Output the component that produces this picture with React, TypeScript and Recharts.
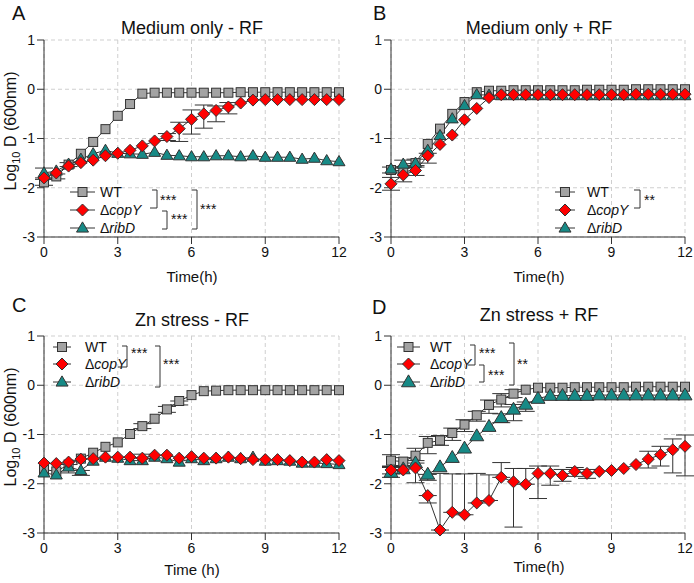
import React from "react";
import {
  LineChart,
  Line,
  XAxis,
  YAxis,
  CartesianGrid,
  ErrorBar,
  Customized,
} from "recharts";

type Err = number | [number, number];

const time = [0, 0.5, 1, 1.5, 2, 2.5, 3, 3.5, 4, 4.5, 5, 5.5, 6, 6.5, 7, 7.5, 8, 8.5, 9, 9.5, 10, 10.5, 11, 11.5, 12];
const xTicks = [0, 3, 6, 9, 12];
const yTicks = [-3, -2, -1, 0, 1];

// A: Medium only - RF
const aWT = [-1.89, -1.77, -1.53, -1.31, -1.07, -0.81, -0.54, -0.3, -0.09, -0.07, -0.07, -0.07, -0.07, -0.07, -0.07, -0.07, -0.06, -0.06, -0.06, -0.06, -0.06, -0.06, -0.06, -0.06, -0.06];
const aCop = [-1.8, -1.7, -1.56, -1.49, -1.44, -1.35, -1.3, -1.24, -1.15, -1.05, -0.96, -0.8, -0.61, -0.5, -0.43, -0.36, -0.28, -0.22, -0.21, -0.21, -0.21, -0.21, -0.21, -0.21, -0.21];
const aRib = [-1.7, -1.66, -1.52, -1.42, -1.31, -1.24, -1.3, -1.31, -1.32, -1.28, -1.34, -1.35, -1.37, -1.37, -1.35, -1.35, -1.37, -1.35, -1.38, -1.38, -1.38, -1.42, -1.4, -1.45, -1.47];
const aWTErr: Err[] = [0.06, 0.05, 0.04, 0, 0, 0, 0, 0, 0, 0, 0, 0, 0, 0, 0, 0, 0, 0, 0, 0, 0, 0, 0, 0, 0];
const aCopErr: Err[] = [0, 0, 0, 0, 0, 0, 0, 0, 0, 0, [0.08, 0.06], [0.26, 0.13], [0.3, 0.19], [0.29, 0.18], [0.23, 0.09], [0.14, 0.09], 0, 0, 0, 0, 0, 0, 0, 0, 0];
const aRibErr: Err[] = [0.1, 0, 0, 0, 0, 0, 0, 0, 0, 0, 0, 0, 0, 0, 0, 0, 0, 0, 0, 0, 0, 0, 0, 0, 0];

// B: Medium only + RF
const bWT = [-1.64, -1.66, -1.5, -1.11, -0.8, -0.5, -0.26, -0.06, -0.03, -0.03, -0.02, -0.02, -0.02, -0.02, -0.02, -0.02, -0.01, -0.01, -0.01, -0.01, 0, 0, 0, 0, 0];
const bCop = [-1.92, -1.74, -1.65, -1.35, -1.12, -0.93, -0.62, -0.39, -0.17, -0.11, -0.11, -0.11, -0.11, -0.11, -0.11, -0.11, -0.11, -0.11, -0.11, -0.11, -0.1, -0.1, -0.1, -0.1, -0.1];
const bRib = [-1.62, -1.52, -1.5, -1.24, -0.94, -0.6, -0.33, -0.11, -0.12, -0.13, -0.13, -0.13, -0.13, -0.13, -0.13, -0.13, -0.13, -0.13, -0.13, -0.13, -0.13, -0.13, -0.13, -0.13, -0.13];
const bWTErr: Err[] = [0.06, [0.22, 0], 0.08, 0, 0, 0, 0, 0, 0, 0, 0, 0, 0, 0, 0, 0, 0, 0, 0, 0, 0, 0, 0, 0, 0];
const bCopErr: Err[] = [0.13, 0, 0.1, [0.15, 0.05], 0, 0, 0, 0, 0, 0, 0, 0, 0, 0, 0, 0, 0, 0, 0, 0, 0, 0, 0, 0, 0];
const bRibErr: Err[] = [0, 0.08, 0, 0, 0, 0, 0, 0, 0, 0, 0, 0, 0, 0, 0, 0, 0, 0, 0, 0, 0, 0, 0, 0, 0];

// C: Zn stress - RF
const cWT = [-1.71, -1.75, -1.61, -1.49, -1.37, -1.25, -1.16, -0.99, -0.83, -0.68, -0.49, -0.32, -0.2, -0.12, -0.11, -0.1, -0.1, -0.1, -0.1, -0.1, -0.1, -0.1, -0.1, -0.1, -0.1];
const cCop = [-1.58, -1.59, -1.56, -1.5, -1.49, -1.46, -1.46, -1.46, -1.48, -1.42, -1.42, -1.48, -1.45, -1.48, -1.48, -1.46, -1.49, -1.51, -1.51, -1.51, -1.53, -1.56, -1.56, -1.51, -1.53];
const cRib = [-1.78, -1.82, -1.66, -1.73, -1.54, -1.46, -1.48, -1.53, -1.53, -1.46, -1.49, -1.56, -1.49, -1.53, -1.49, -1.46, -1.49, -1.46, -1.54, -1.53, -1.54, -1.58, -1.58, -1.59, -1.61];
const cWTErr: Err[] = [0, 0, [0.17, 0], 0, 0, 0, 0, 0, 0.05, 0, 0.06, [0.08, 0], 0, 0, 0, 0, 0, 0, 0, 0, 0, 0, 0, 0, 0];
const cCopErr: Err[] = [0, 0, 0, 0, 0, 0, 0, 0, [0, 0.08], 0, 0, 0, 0, 0, 0, 0, 0, 0, 0, 0, 0, 0, 0, 0, 0];
const cRibErr: Err[] = [0, 0, 0, [0.1, 0], 0, 0, 0, 0, 0, 0, 0, 0, 0, 0, 0, 0, 0, 0, 0, 0, 0, 0, 0, 0, 0];

// D: Zn stress + RF
const dWT = [-1.53, -1.55, -1.43, -1.17, -1.12, -0.97, -0.8, -0.61, -0.4, -0.29, -0.17, -0.09, -0.05, -0.05, -0.05, -0.04, -0.04, -0.04, -0.04, -0.04, -0.03, -0.03, -0.03, -0.03, -0.03];
const dCop = [-1.72, -1.72, -1.68, -2.24, -2.94, -2.58, -2.63, -2.39, -2.34, -1.87, -1.96, -2.01, -1.79, -1.79, -1.83, -1.75, -1.79, -1.75, -1.73, -1.69, -1.61, -1.5, -1.41, -1.31, -1.24];
const dRib = [-1.77, -1.7, -1.58, -1.81, -1.66, -1.47, -1.28, -1.03, -0.84, -0.66, -0.49, -0.39, -0.27, -0.21, -0.21, -0.21, -0.21, -0.2, -0.2, -0.2, -0.2, -0.2, -0.2, -0.2, -0.2];
const dWTErr: Err[] = [0.12, 0.08, [0.1, 0.15], [0.22, 0.13], 0.1, [0.15, 0.1], [0.14, 0.1], [0.12, 0.08], [0.17, 0.1], [0.15, 0.12], 0.08, 0, 0, 0, 0, 0, 0, 0, 0, 0, 0, 0, 0, 0, 0];
const dCopErr: Err[] = [0.08, 0, [0.3, 0.1], [0.15, 0], [0, 1.15], [0, 0.78], [0, 0.83], [0, 0.6], [0, 0.52], [0, 0.3], [0.92, 0.27], [0, 0.32], [0.51, 0.15], [0.24, 0.15], [0.12, 0.12], [0.1, 0.08], [0.1, 0.08], 0, 0, 0, 0, [0.18, 0.16], [0.23, 0.17], [0.47, 0.22], [0.6, 0.23]];
const dRibErr: Err[] = [0.1, 0, 0, [0.12, 0], 0, 0, 0, 0, 0, [0.1, 0.08], [0.23, 0.1], [0.14, 0.05], 0, 0, 0, 0, 0, 0, 0, 0, 0, 0, 0, 0, 0];

const FONT = "'Liberation Sans', Arial, Helvetica, sans-serif";
const INK = "#333";
const GRAY = "#a3a3a3";
const RED = "#ff0000";
const TEAL = "#178a86";

function makeRows(wt: number[], wtE: Err[], cop: number[], copE: Err[], rib: number[], ribE: Err[]) {
  return time.map((t, i) => ({
    t,
    wt: wt[i],
    wtE: wtE[i] || null,
    cop: cop[i],
    copE: copE[i] || null,
    rib: rib[i],
    ribE: ribE[i] || null,
  }));
}

function Square({ cx, cy, s = 9 }: { cx: number; cy: number; s?: number }) {
  return <rect x={cx - s / 2} y={cy - s / 2} width={s} height={s} fill={GRAY} stroke={INK} strokeWidth={1} />;
}
function Diamond({ cx, cy, r = 6 }: { cx: number; cy: number; r?: number }) {
  return (
    <polygon
      points={`${cx},${cy - r} ${cx + r},${cy} ${cx},${cy + r} ${cx - r},${cy}`}
      fill={RED}
      stroke={INK}
      strokeWidth={1}
    />
  );
}
function Triangle({ cx, cy, w = 12 }: { cx: number; cy: number; w?: number }) {
  const h = w * 0.85;
  return (
    <polygon
      points={`${cx},${cy - h * 0.6} ${cx + w / 2},${cy + h * 0.4} ${cx - w / 2},${cy + h * 0.4}`}
      fill={TEAL}
      stroke={INK}
      strokeWidth={1}
    />
  );
}

type Bracket = { x: number; y1: number; y2: number; xa: number; xb: number; label: string; lx: number; ly: number };

type PanelProps = {
  left: number;
  top: number;
  height: number;
  plotTop: number;
  plotRight: number;
  letter: string;
  letterX: number;
  letterY: number;
  title: string;
  titleY: number;
  xLabel: string;
  xLabelY: number;
  showYLabel: boolean;
  rows: ReturnType<typeof makeRows>;
  legend: { rows: number[]; l1: number; l2: number; tx: number; tri: number };
  brackets: Bracket[];
};

function Overlay({ p }: { p: PanelProps }) {
  const mx = (p.legend.l1 + p.legend.l2) / 2;
  const names = [
    <tspan key="wt">WT</tspan>,
    <>
      <tspan>Δ</tspan>
      <tspan fontStyle="italic">copY</tspan>
    </>,
    <>
      <tspan>Δ</tspan>
      <tspan fontStyle="italic">ribD</tspan>
    </>,
  ];
  const ly = p.plotTop + 91;
  return (
    <g fontFamily={FONT} fill="#111">
      <text x={p.letterX} y={p.letterY} fontSize={20}>
        {p.letter}
      </text>
      <text x={192} y={p.titleY} fontSize={18} textAnchor="middle">
        {p.title}
      </text>
      <text x={192} y={p.xLabelY} fontSize={15} textAnchor="middle">
        {p.xLabel}
      </text>
      {p.showYLabel && (
        <text
          x={16}
          y={ly}
          fontSize={16}
          textAnchor="middle"
          transform={`rotate(-90, 16, ${ly})`}
        >
          Log
          <tspan fontSize={11} dy={4}>
            10
          </tspan>
          <tspan dy={-4}> D (600nm)</tspan>
        </text>
      )}
      {p.legend.rows.map((y, i) => (
        <g key={i}>
          <line x1={p.legend.l1} x2={p.legend.l2} y1={y} y2={y} stroke={INK} strokeWidth={1} />
          {i === 0 && <Square cx={mx} cy={y} />}
          {i === 1 && <Diamond cx={mx} cy={y} />}
          {i === 2 && <Triangle cx={mx} cy={y} w={p.legend.tri} />}
          <text x={p.legend.tx} y={y} fontSize={14} dominantBaseline="central">
            {names[i]}
          </text>
        </g>
      ))}
      {p.brackets.map((b, i) => (
        <g key={i}>
          <path d={`M${b.xa},${b.y1} H${b.x} V${b.y2} H${b.xb}`} fill="none" stroke={INK} strokeWidth={1} />
          <text x={b.lx} y={b.ly} fontSize={14} dominantBaseline="central">
            {b.label}
          </text>
        </g>
      ))}
    </g>
  );
}

function Panel(p: PanelProps) {
  const xAxisHeight = p.height - (p.plotTop + 197);
  return (
    <div style={{ position: "absolute", left: p.left, top: p.top }}>
      <LineChart
        width={347}
        height={p.height}
        data={p.rows}
        margin={{ top: p.plotTop, right: 347 - p.plotRight, left: 0, bottom: 0 }}
      >
        <CartesianGrid stroke="#cfcfcf" strokeDasharray="4 3" />
        <XAxis
          dataKey="t"
          type="number"
          domain={[0, 12]}
          ticks={xTicks}
          height={xAxisHeight}
          stroke={INK}
          tickSize={7}
          tickMargin={3}
          tick={{ fill: "#111", fontSize: 14, fontFamily: FONT }}
        />
        <YAxis
          type="number"
          domain={[-3, 1]}
          ticks={yTicks}
          width={44}
          stroke={INK}
          tickSize={7}
          tickMargin={2}
          tick={{ fill: "#111", fontSize: 14, fontFamily: FONT }}
        />
        <Line
          dataKey="wt"
          stroke={INK}
          strokeWidth={1}
          isAnimationActive={false}
          activeDot={false}
          dot={(d: any) => <Square key={`s${d.index}`} cx={d.cx} cy={d.cy} />}
        >
          <ErrorBar dataKey="wtE" width={9} stroke={INK} strokeWidth={1} direction="y" />
        </Line>
        <Line
          dataKey="rib"
          stroke={INK}
          strokeWidth={1}
          isAnimationActive={false}
          activeDot={false}
          dot={(d: any) => <Triangle key={`t${d.index}`} cx={d.cx} cy={d.cy} w={p.legend.tri} />}
        >
          <ErrorBar dataKey="ribE" width={9} stroke={INK} strokeWidth={1} direction="y" />
        </Line>
        <Line
          dataKey="cop"
          stroke={INK}
          strokeWidth={1}
          isAnimationActive={false}
          activeDot={false}
          dot={(d: any) => <Diamond key={`d${d.index}`} cx={d.cx} cy={d.cy} />}
        >
          <ErrorBar dataKey="copE" width={9} stroke={INK} strokeWidth={1} direction="y" />
        </Line>
        <Customized component={<Overlay p={p} />} />
      </LineChart>
    </div>
  );
}

export default function App() {
  const common = { height: 290 };
  return (
    <div style={{ position: "absolute", left: 0, top: 0, width: 694, height: 583, background: "#fff" }}>
      <Panel
        {...common}
        left={0}
        top={0}
        plotTop={40}
        plotRight={339}
        letter="A"
        letterX={12}
        letterY={20}
        title="Medium only - RF"
        titleY={34}
        xLabel="Time(h)"
        xLabelY={282}
        showYLabel
        rows={makeRows(aWT, aWTErr, aCop, aCopErr, aRib, aRibErr)}
        legend={{ rows: [192, 210, 228], l1: 70, l2: 95, tx: 100, tri: 12 }}
        brackets={[
          { x: 157, y1: 190, y2: 208, xa: 152, xb: 150, label: "***", lx: 160, ly: 200 },
          { x: 167, y1: 211, y2: 229, xa: 162, xb: 162, label: "***", lx: 171, ly: 219 },
          { x: 197, y1: 190, y2: 229, xa: 192, xb: 192, label: "***", lx: 200, ly: 209 },
        ]}
      />
      <Panel
        {...common}
        left={347}
        top={0}
        plotTop={40}
        plotRight={338}
        letter="B"
        letterX={26}
        letterY={20}
        title="Medium only + RF"
        titleY={34}
        xLabel="Time(h)"
        xLabelY={282}
        showYLabel={false}
        rows={makeRows(bWT, bWTErr, bCop, bCopErr, bRib, bRibErr)}
        legend={{ rows: [192, 210, 228], l1: 208, l2: 228, tx: 240, tri: 12 }}
        brackets={[{ x: 293, y1: 190, y2: 208, xa: 287, xb: 287, label: "**", lx: 297, ly: 200 }]}
      />
      <Panel
        height={293}
        left={0}
        top={290}
        plotTop={46}
        plotRight={339}
        letter="C"
        letterX={12}
        letterY={22}
        title="Zn stress - RF"
        titleY={36}
        xLabel="Time (h)"
        xLabelY={285}
        showYLabel
        rows={makeRows(cWT, cWTErr, cCop, cCopErr, cRib, cRibErr)}
        legend={{ rows: [57, 74, 92], l1: 53, l2: 71, tx: 85, tri: 12 }}
        brackets={[
          { x: 127, y1: 56, y2: 77, xa: 122, xb: 118, label: "***", lx: 131, ly: 63 },
          { x: 160, y1: 56, y2: 97, xa: 155, xb: 155, label: "***", lx: 163, ly: 74 },
        ]}
      />
      <Panel
        height={293}
        left={347}
        top={290}
        plotTop={46}
        plotRight={338}
        letter="D"
        letterX={25}
        letterY={24}
        title="Zn stress + RF"
        titleY={31}
        xLabel="Time(h)"
        xLabelY={282}
        showYLabel={false}
        rows={makeRows(dWT, dWTErr, dCop, dCopErr, dRib, dRibErr)}
        legend={{ rows: [57, 74, 92], l1: 50, l2: 73, tx: 83, tri: 14 }}
        brackets={[
          { x: 128, y1: 55, y2: 75, xa: 123, xb: 121, label: "***", lx: 132, ly: 63 },
          { x: 137, y1: 75, y2: 92, xa: 132, xb: 132, label: "***", lx: 141, ly: 85 },
          { x: 167, y1: 53, y2: 95, xa: 162, xb: 162, label: "**", lx: 170, ly: 74 },
        ]}
      />
    </div>
  );
}
